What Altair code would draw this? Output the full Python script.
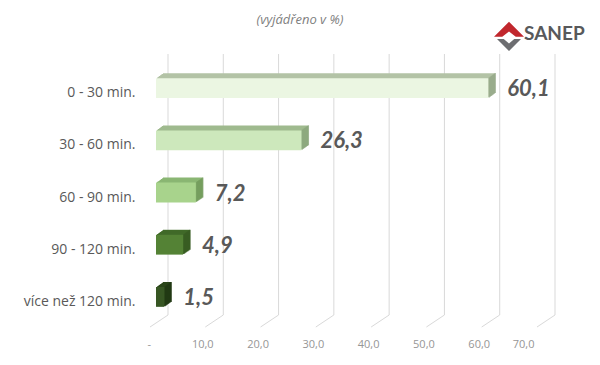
import altair as alt
import pandas as pd

categories = ["0 - 30 min.", "30 - 60 min.", "60 - 90 min.", "90 - 120 min.", "více než 120 min."]
values = [60.1, 26.3, 7.2, 4.9, 1.5]
value_labels = ["60,1", "26,3", "7,2", "4,9", "1,5"]
front_colors = ["#ebf6e2", "#cde8bc", "#a8d38c", "#548235", "#375623"]
top_colors = ["#b3c3a6", "#9fba8e", "#8ab673", "#416a29", "#2b461a"]
side_colors = ["#8fa282", "#88a379", "#6e9658", "#375a22", "#203613"]
tick_values = [0, 10, 20, 30, 40, 50, 60, 70]

FONT = "Lato"
AXFONT = "Open Sans"

df = pd.DataFrame({
    "cat": categories,
    "value": values,
    "label": value_labels,
    "front": front_colors,
    "top": top_colors,
    "side": side_colors,
})
ticks_df = pd.DataFrame({"value": tick_values})

xscale = alt.Scale(domain=[0, 70], nice=False)
yscale = alt.Scale(domain=categories, paddingInner=0.62, paddingOuter=0.31)

x_axis = alt.Axis(values=tick_values, grid=False, domain=False, ticks=False,
                  labelOffset=-9, labelPadding=15, labelFontSize=11,
                  labelColor="#969696", labelFont=AXFONT, title=None,
                  labelExpr="datum.value == 0 ? '-' : replace(format(datum.value, '.1f'), '.', ',')")
y_axis = alt.Axis(title=None, domain=False, ticks=False, labelPadding=21,
                  labelOffset=5, labelFontSize=14, labelColor="#595959", labelFont=AXFONT)

X = alt.X("value:Q", scale=xscale, axis=x_axis)
Y = alt.Y("cat:N", scale=yscale, sort=categories, axis=y_axis)

base = alt.Chart(df)

grid_back = alt.Chart(ticks_df).mark_rule(color="#d9d9d9", strokeWidth=1, xOffset=12, x2Offset=12).encode(
    x=X, y=alt.value(-8), y2=alt.value(253))
grid_floor = alt.Chart(ticks_df).mark_rule(color="#d9d9d9", strokeWidth=1, xOffset=12, x2Offset=-6).encode(
    x=X, x2=alt.X2("value:Q"), y=alt.value(253), y2=alt.value(265))

layers = [grid_back, grid_floor]
depth = 7
for k in range(depth, 0, -1):
    dy = -k * 5.0 / 7.0
    layers.append(base.mark_bar(xOffset=k, x2Offset=k, yOffset=dy, y2Offset=dy).encode(
        x=X, y=Y, color=alt.Color("top:N", scale=None)))
    layers.append(base.mark_tick(orient="vertical", size=20, thickness=1.3, xOffset=k, yOffset=dy).encode(
        x=X, y=Y, color=alt.Color("side:N", scale=None)))

front = base.mark_bar().encode(x=X, y=Y, color=alt.Color("front:N", scale=None))
text = base.mark_text(align="left", baseline="middle", dx=19, dy=1, fontSize=22,
                      fontStyle="italic", fontWeight="bold", color="#595959", font=FONT).encode(
    x=X, y=Y, text="label:N")

title = alt.Chart(pd.DataFrame({"t": ["(vyjádřeno v %)"]})).mark_text(
    fontSize=13, fontStyle="italic", color="#7f7f7f", font=AXFONT, align="center", baseline="middle").encode(
    x=alt.value(144), y=alt.value(-42), text="t:N")

logo_df = pd.DataFrame({"t": ["SANEP"]})
logo_text = alt.Chart(logo_df).mark_text(fontSize=19, fontWeight="bold", color="#58595b", font=FONT,
                                         align="left", baseline="middle").encode(
    x=alt.value(368), y=alt.value(-28), text="t:N")
logo_red = alt.Chart(logo_df).mark_point(
    shape="M-1,0.05 L0,-0.95 L1,0.05 L0.45,0.05 L0,-0.3 L-0.45,0.05 Z",
    filled=True, color="#c1272d", opacity=1, size=900).encode(x=alt.value(353), y=alt.value(-26))
logo_gray = alt.Chart(logo_df).mark_point(
    shape="M-0.8,0.2 L-0.35,0.2 L0,0.5 L0.35,0.2 L0.8,0.2 L0,1 Z",
    filled=True, color="#6d6e71", opacity=1, size=900).encode(x=alt.value(353), y=alt.value(-26))

chart = alt.layer(*layers, front, text, title, logo_red, logo_gray, logo_text).properties(
    width=387, height=261,
    autosize=alt.AutoSizeParams(type="none"),
    padding={"left": 148, "top": 54, "right": 49, "bottom": 34},
    background="white",
).configure_view(stroke=None)

chart.save("out.html", embed_options={"renderer": "svg", "actions": False})
